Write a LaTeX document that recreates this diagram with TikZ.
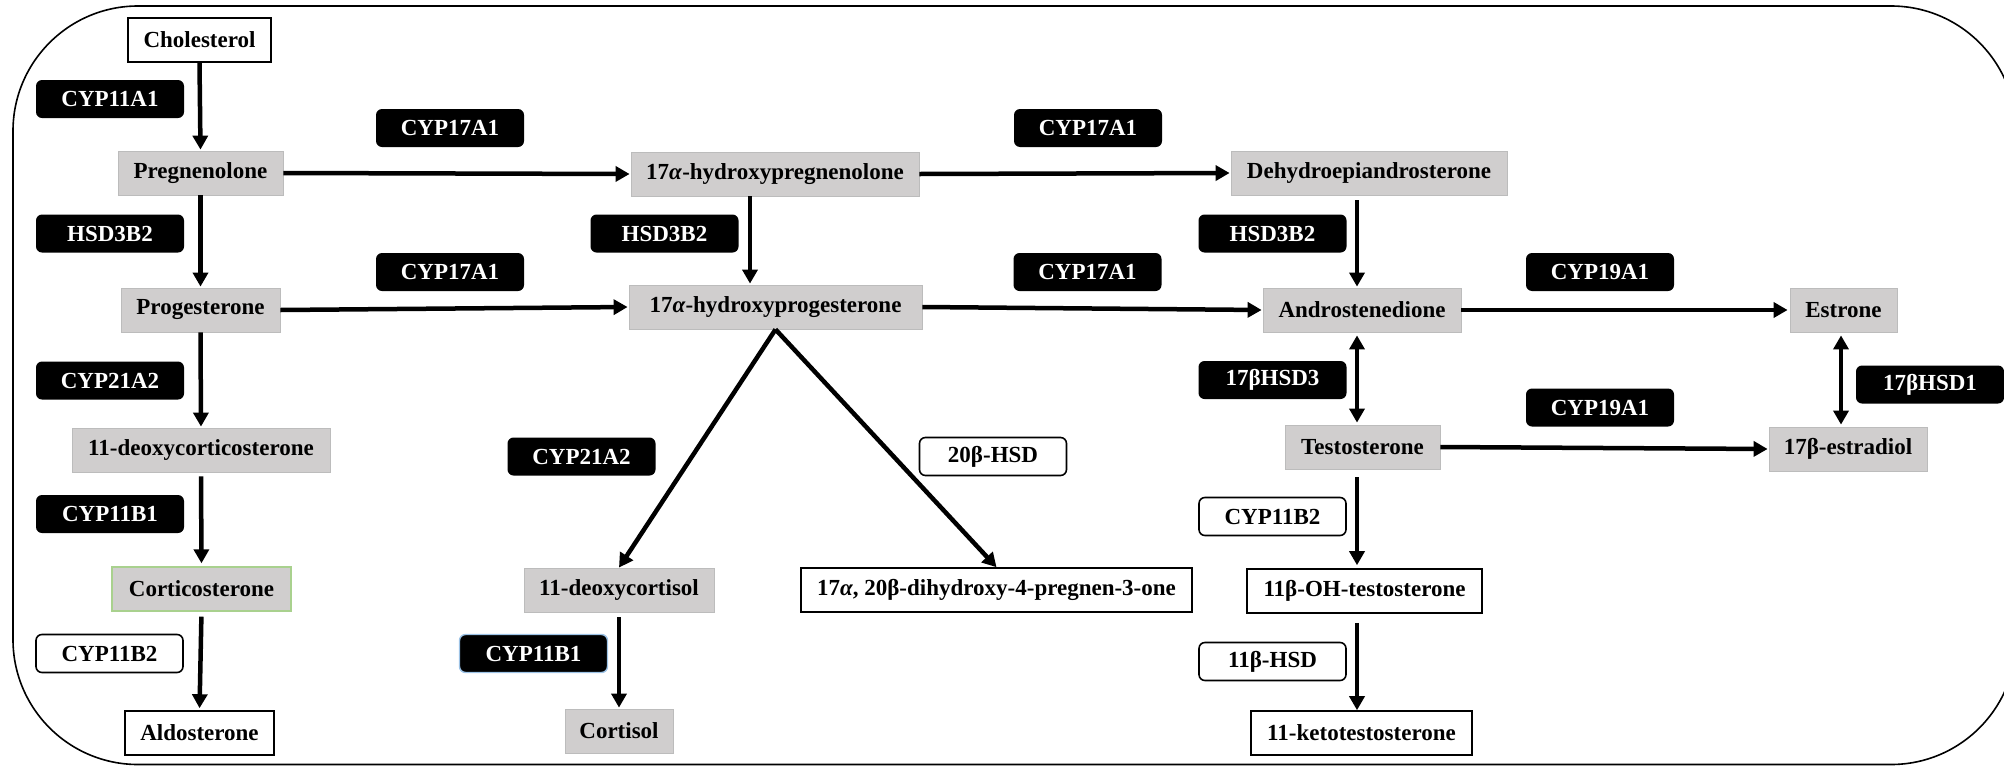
\documentclass[tikz,border=0pt]{standalone}
\usepackage{fontspec}
\setmainfont{Liberation Serif}
\usetikzlibrary{arrows.meta}
\definecolor{boxgrey}{RGB}{208,206,206}
\definecolor{edgegrey}{RGB}{188,188,188}
\definecolor{leafgreen}{RGB}{169,209,142}
\definecolor{skyblue}{RGB}{157,195,230}
\begin{document}
\begin{tikzpicture}[x=1pt,y=-1pt,
  font=\fontsize{23}{27}\selectfont\bfseries,
  sub/.style={draw=edgegrey, line width=0.8pt, fill=boxgrey, inner sep=0pt, minimum height=44pt},
  wsub/.style={draw=black, line width=1.6pt, fill=white, inner sep=0pt, minimum height=44pt},
  enz/.style={fill=black, text=white, rounded corners=6pt, minimum width=148pt, minimum height=38pt, inner sep=0pt},
  wenz/.style={draw=black, line width=1.6pt, fill=white, text=black, rounded corners=6pt, minimum width=147pt, minimum height=38pt, inner sep=0pt},
  conv/.style={-{Triangle[width=15pt,length=14pt]}, line width=4.5pt},
  both/.style={{Triangle[width=15pt,length=14pt]}-{Triangle[width=15pt,length=14pt]}, line width=4.5pt}]
\useasboundingbox (0,0) rectangle (2004,766);
% outer frame, partly cut by the page edge
\begin{scope}
  \clip (0,0) rectangle (2004,766);
  \draw[line width=1.6pt, rounded corners=125pt] (13,6) rectangle (2016,764.5);
\end{scope}

% columns used by offset connectors
\coordinate (xm) at (750,0);
\coordinate (xr) at (1357,0);
\coordinate (xe) at (1841,0);

% substances
\node[wsub, minimum width=143pt] (chol) at (199.5,40) {Cholesterol};
\node[sub, minimum width=165pt] (preg) at (200.5,173) {Pregnenolone};
\node[sub, minimum width=159pt] (prog) at (200.5,310) {Progesterone};
\node[sub, minimum width=258pt] (doc) at (201,450) {11-deoxycorticosterone};
\node[sub, draw=leafgreen, line width=1.4pt, minimum width=179pt] (cort) at (201.5,589) {Corticosterone};
\node[wsub, minimum width=149pt] (aldo) at (199.5,733) {Aldosterone};

\node[sub, minimum width=288pt] (ohpreg) at (775,174) {17\textit{α}-hydroxypregnenolone};
\node[sub, minimum width=293pt] (ohprog) at (775.5,307) {17\textit{α}-hydroxyprogesterone};
\node[sub, minimum width=190pt] (dcl) at (619,590) {11-deoxycortisol};
\node[wsub, minimum width=391pt] (dihy) at (996.5,590) {17\textit{α}, 20β-dihydroxy-4-pregnen-3-one};
\node[sub, minimum width=108pt] (cortisol) at (619,731) {Cortisol};

\node[sub, minimum width=276pt] (dhea) at (1369,173) {Dehydroepiandrosterone};
\node[sub, minimum width=198pt] (andro) at (1362,310) {Androstenedione};
\node[sub, minimum width=155pt] (testo) at (1362.5,447) {Testosterone};
\node[wsub, minimum width=235pt] (ohtesto) at (1364.5,591) {11β-OH-testosterone};
\node[wsub, minimum width=221pt] (keto) at (1361.5,733) {11-ketotestosterone};

\node[sub, minimum width=107pt] (estrone) at (1843.5,310) {Estrone};
\node[sub, minimum width=158pt] (estradiol) at (1848,449) {17β-estradiol};

% enzymes
\node[enz] (e1) at (110,99) {CYP11A1};
\node[enz] (e2) at (110,233.5) {HSD3B2};
\node[enz] (e3) at (110,380.5) {CYP21A2};
\node[enz] (e4) at (110,514) {CYP11B1};
\node[wenz] (e5) at (109.5,653.5) {CYP11B2};

\node[enz] (e6) at (450,128) {CYP17A1};
\node[enz] (e7) at (450,272) {CYP17A1};
\node[enz] (e8) at (664.5,233.5) {HSD3B2};
\node[enz] (e9) at (581.5,456.5) {CYP21A2};
\node[wenz] (e10) at (993,456.5) {20β-HSD};
\node[enz, draw=skyblue, line width=1.4pt] (e11) at (533.5,653.5) {CYP11B1};

\node[enz] (e12) at (1088,128) {CYP17A1};
\node[enz] (e13) at (1087.5,272) {CYP17A1};
\node[enz] (e14) at (1272.5,233.5) {HSD3B2};
\node[enz] (e15) at (1272.5,380) {17βHSD3};
\node[wenz] (e16) at (1272.5,516.5) {CYP11B2};
\node[wenz] (e17) at (1272.5,661.5) {11β-HSD};

\node[enz] (e18) at (1600,272) {CYP19A1};
\node[enz] (e19) at (1600,407.5) {CYP19A1};
\node[enz] (e20) at (1930,384.5) {17βHSD1};

% conversions
\draw[conv, shorten >=1pt] (chol.south) -- (preg.north);
\draw[conv, shorten >=1pt] (preg.south) -- (prog.north);
\draw[conv, shorten >=1pt] (prog.south) -- (doc.north);
\draw[conv, shorten <=4pt, shorten >=3pt] (doc.south) -- (cort.north);
\draw[conv, shorten <=5pt, shorten >=2pt] (cort.south) -- (aldo.north);

\draw[conv, shorten >=1pt] (preg.east) -- (ohpreg.west);
\draw[conv, shorten >=1pt] (prog.east) -- (ohprog.west);
\draw[conv, shorten >=1pt] (ohpreg.south -| xm) -- (ohprog.north -| xm);
\draw[conv] (ohprog.south) -- (dcl.north);
\draw[conv] (ohprog.south) -- (dihy.north);
\draw[conv, shorten <=5pt, shorten >=1pt] (dcl.south) -- (cortisol.north);

\draw[conv, shorten >=1pt] (ohpreg.east) -- (dhea.west);
\draw[conv, shorten >=1pt] (ohprog.east) -- (andro.west);
\draw[conv, shorten <=5pt, shorten >=1pt] (dhea.south -| xr) -- (andro.north -| xr);
\draw[both, shorten <=3pt, shorten >=2pt] (andro.south -| xr) -- (testo.north -| xr);
\draw[conv, shorten <=8pt, shorten >=3pt] (testo.south -| xr) -- (ohtesto.north -| xr);
\draw[conv, shorten <=9pt] (ohtesto.south -| xr) -- (keto.north -| xr);

\draw[conv, shorten >=2pt] (andro.east) -- (estrone.west);
\draw[conv, shorten >=1pt] (testo.east) -- (estradiol.west);
\draw[both, shorten <=3pt, shorten >=2pt] (estrone.south -| xe) -- (estradiol.north -| xe);
\end{tikzpicture}
\end{document}
